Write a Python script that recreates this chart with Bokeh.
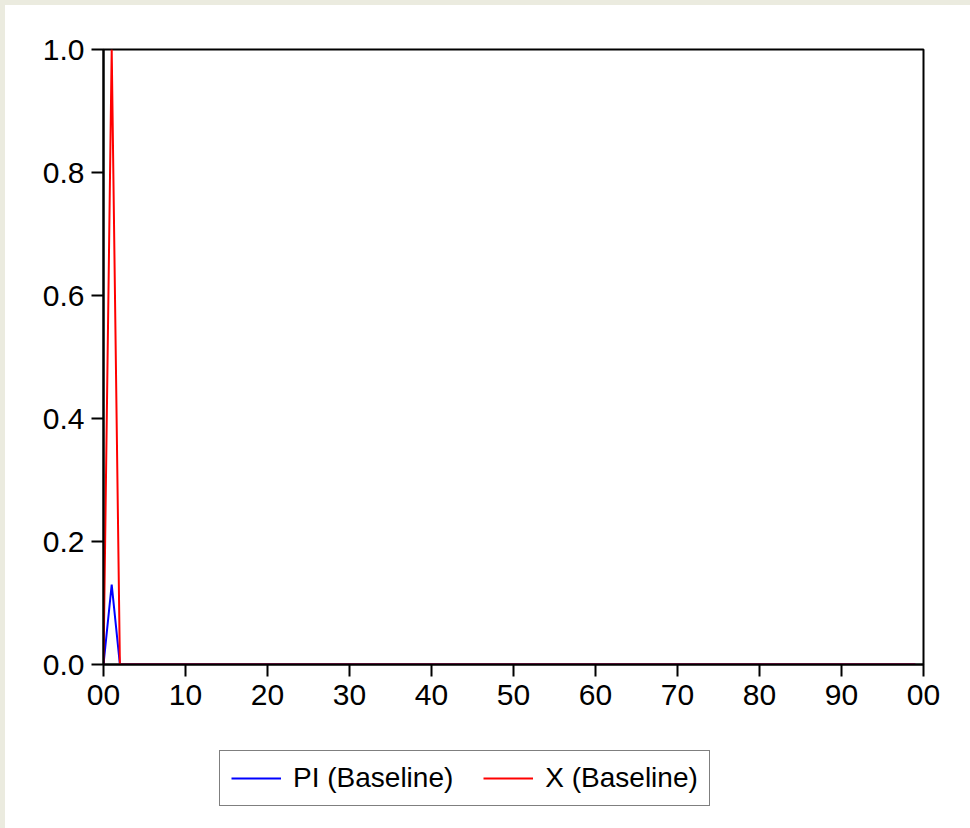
from bokeh.plotting import figure
from bokeh.layouts import column
from bokeh.models import FixedTicker, Legend, LegendItem, Range1d
from bokeh.embed import file_html
from bokeh.resources import INLINE

years = list(range(2000, 2100))
pi_baseline = [0.0, 0.13, 0.0, 0.0, 0.0, 0.0, 0.0, 0.0, 0.0, 0.0,
               0.0, 0.0, 0.0, 0.0, 0.0, 0.0, 0.0, 0.0, 0.0, 0.0,
               0.0, 0.0, 0.0, 0.0, 0.0, 0.0, 0.0, 0.0, 0.0, 0.0,
               0.0, 0.0, 0.0, 0.0, 0.0, 0.0, 0.0, 0.0, 0.0, 0.0,
               0.0, 0.0, 0.0, 0.0, 0.0, 0.0, 0.0, 0.0, 0.0, 0.0,
               0.0, 0.0, 0.0, 0.0, 0.0, 0.0, 0.0, 0.0, 0.0, 0.0,
               0.0, 0.0, 0.0, 0.0, 0.0, 0.0, 0.0, 0.0, 0.0, 0.0,
               0.0, 0.0, 0.0, 0.0, 0.0, 0.0, 0.0, 0.0, 0.0, 0.0,
               0.0, 0.0, 0.0, 0.0, 0.0, 0.0, 0.0, 0.0, 0.0, 0.0,
               0.0, 0.0, 0.0, 0.0, 0.0, 0.0, 0.0, 0.0, 0.0, 0.0]
x_baseline = [0.0, 1.0, 0.0, 0.0, 0.0, 0.0, 0.0, 0.0, 0.0, 0.0,
              0.0, 0.0, 0.0, 0.0, 0.0, 0.0, 0.0, 0.0, 0.0, 0.0,
              0.0, 0.0, 0.0, 0.0, 0.0, 0.0, 0.0, 0.0, 0.0, 0.0,
              0.0, 0.0, 0.0, 0.0, 0.0, 0.0, 0.0, 0.0, 0.0, 0.0,
              0.0, 0.0, 0.0, 0.0, 0.0, 0.0, 0.0, 0.0, 0.0, 0.0,
              0.0, 0.0, 0.0, 0.0, 0.0, 0.0, 0.0, 0.0, 0.0, 0.0,
              0.0, 0.0, 0.0, 0.0, 0.0, 0.0, 0.0, 0.0, 0.0, 0.0,
              0.0, 0.0, 0.0, 0.0, 0.0, 0.0, 0.0, 0.0, 0.0, 0.0,
              0.0, 0.0, 0.0, 0.0, 0.0, 0.0, 0.0, 0.0, 0.0, 0.0,
              0.0, 0.0, 0.0, 0.0, 0.0, 0.0, 0.0, 0.0, 0.0, 0.0]

x_ticks = [2000, 2010, 2020, 2030, 2040, 2050, 2060, 2070, 2080, 2090, 2100]
x_tick_labels = ["00", "10", "20", "30", "40", "50", "60", "70", "80", "90", "00"]
y_ticks = [0.0, 0.2, 0.4, 0.6, 0.8, 1.0]
y_tick_labels = ["0.0", "0.2", "0.4", "0.6", "0.8", "1.0"]

series_names = ["PI (Baseline)", "X (Baseline)"]
series_colors = ["#0000FF", "#FF0000"]

FONT = "Liberation Sans"
BEIGE = "#EBEBDF"

# main chart
p = figure(width=965, height=715, output_backend="svg", toolbar_location=None,
           x_range=Range1d(2000, 2100), y_range=Range1d(0, 1.0),
           min_border_left=98, min_border_right=47, min_border_top=44,
           min_border_bottom=56, background_fill_color="white",
           border_fill_color="white")
p.outline_line_color = "black"
p.outline_line_width = 2
p.xgrid.visible = False
p.ygrid.visible = False

p.line(years, pi_baseline, line_color=series_colors[0], line_width=2)
p.line(years, x_baseline, line_color=series_colors[1], line_width=2)

p.xaxis.ticker = FixedTicker(ticks=x_ticks)
p.xaxis.major_label_overrides = {t: l for t, l in zip(x_ticks, x_tick_labels)}
p.yaxis.ticker = FixedTicker(ticks=y_ticks)
p.yaxis.major_label_overrides = {t: l for t, l in zip(y_ticks, y_tick_labels)}

for ax in (p.xaxis, p.yaxis):
    ax.axis_line_color = "black"
    ax.axis_line_width = 2
    ax.major_tick_line_color = "black"
    ax.major_tick_line_width = 2
    ax.major_tick_out = 12
    ax.major_tick_in = 0
    ax.minor_tick_line_color = None
    ax.major_label_text_font = FONT
    ax.major_label_text_font_size = "30px"
    ax.major_label_text_color = "black"
p.yaxis.major_label_standoff = 7
p.xaxis.major_label_standoff = 8

# legend strip below the chart (its series sit outside its visible range)
q = figure(width=965, height=108, output_backend="svg", toolbar_location=None,
           x_range=Range1d(0, 1), y_range=Range1d(0, 1),
           min_border_left=0, min_border_right=0, min_border_top=0,
           min_border_bottom=0, background_fill_color="white",
           border_fill_color="white", outline_line_color=None)
q.axis.visible = False
q.xgrid.visible = False
q.ygrid.visible = False
k_pi = q.line(years, pi_baseline, line_color=series_colors[0], line_width=2)
k_x = q.line(years, x_baseline, line_color=series_colors[1], line_width=2)

legend = Legend(items=[LegendItem(label=series_names[0], renderers=[k_pi]),
                       LegendItem(label=series_names[1], renderers=[k_x])],
                orientation="horizontal", location=(116, 22))
legend.label_text_font = FONT
legend.label_text_font_size = "28px"
legend.label_text_color = "black"
legend.border_line_color = "black"
legend.border_line_width = 1.5
legend.background_fill_color = "white"
legend.background_fill_alpha = 1.0
legend.glyph_width = 50
legend.glyph_height = 30
legend.label_height = 30
legend.label_standoff = 12
legend.spacing = 30
legend.padding = 11
legend.margin = 0
q.add_layout(legend, "center")

layout = column(p, q, spacing=0)
layout.styles = {"border-left": "5px solid " + BEIGE, "border-top": "5px solid " + BEIGE}
open("out.html", "w").write(file_html(layout, INLINE))
